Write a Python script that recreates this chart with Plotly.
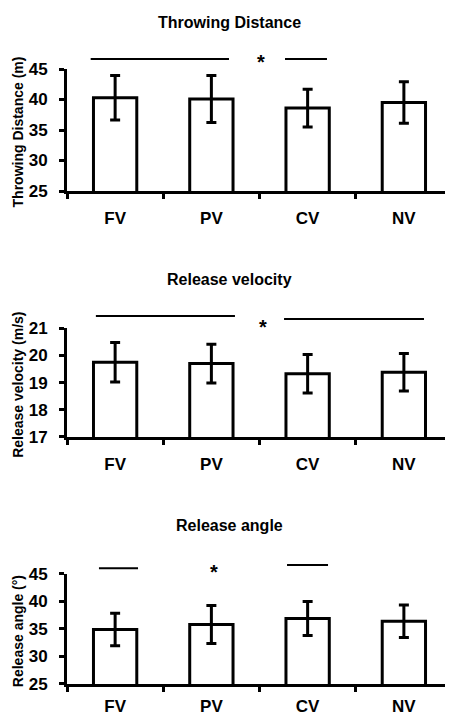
import plotly.graph_objects as go

# ---------------- data ----------------
categories = ["FV", "PV", "CV", "NV"]

distance_mean = [40.3, 40.1, 38.6, 39.5]
distance_sd = [3.65, 3.85, 3.1, 3.4]

velocity_mean = [19.75, 19.70, 19.33, 19.38]
velocity_sd = [0.73, 0.71, 0.71, 0.69]

angle_mean = [34.9, 35.8, 36.9, 36.4]
angle_sd = [2.95, 3.45, 3.1, 2.95]

panel_titles = ["Throwing Distance", "Release velocity", "Release angle"]
axis_titles = ["Throwing Distance (m)", "Release velocity (m/s)", "Release angle (°)"]
y_ranges = [(25, 45), (17, 21), (25, 45)]
y_dticks = [5, 1, 5]

# significance bars (category-unit spans) and star position
sig_spans = [
    [(-0.254, 1.183), (1.765, 2.201)],
    [(-0.20, 1.245), (1.755, 3.209)],
    [(-0.168, 0.238), (1.786, 2.212)],
]
sig_star_x = [1.516, 1.536, 1.027]

# ---------------- layout constants ----------------
# the page body keeps its default 8px margin, so the figure is sized to
# fill the remaining visible window area
FONT = "Liberation Sans, Arial, sans-serif"
W, H = 445, 708
x_domain = [59 / W, 444 / W]
y_domains = [(0.7415, 0.9138), (0.3941, 0.5476), (0.0452, 0.2006)]
title_y = [0.9802, 0.6172, 0.2684]
title_x = 0.497
ytitle_x = 10 / W
xlabel_standoff = [10, 10, 5]
sig_line_levels = [[1.082, 1.082], [1.113, 1.086], [1.052, 1.082]]
sig_star_level = [1.098, 1.061, 1.064]

means = [distance_mean, velocity_mean, angle_mean]
sds = [distance_sd, velocity_sd, angle_sd]

fig = go.Figure()
layout = dict(
    width=W, height=H,
    margin=dict(l=0, r=0, t=0, b=0, autoexpand=False),
    paper_bgcolor="white", plot_bgcolor="white",
    showlegend=False,
    font=dict(family=FONT, color="black"),
)
annotations = []
shapes = []

for i in range(3):
    sfx = "" if i == 0 else str(i + 1)
    xa, ya = "x" + sfx, "y" + sfx
    fig.add_trace(go.Bar(
        x=categories, y=means[i],
        xaxis=xa, yaxis=ya,
        width=0.45,
        marker=dict(color="white", line=dict(color="black", width=3)),
        error_y=dict(type="data", array=sds[i], visible=True,
                     color="black", thickness=3, width=5),
    ))
    layout["xaxis" + sfx] = dict(
        domain=x_domain, anchor=ya, type="category",
        categoryorder="array", categoryarray=categories,
        range=[-0.5, 3.5], tickson="boundaries",
        ticks="outside", ticklen=5, tickwidth=3, tickcolor="black",
        showline=True, linewidth=3, linecolor="black",
        showgrid=False, zeroline=False, automargin=False,
        tickfont=dict(family=FONT, size=17, color="black", weight="bold"),
        ticklabelstandoff=xlabel_standoff[i],
    )
    layout["yaxis" + sfx] = dict(
        domain=list(y_domains[i]), anchor=xa,
        range=list(y_ranges[i]), tick0=y_ranges[i][0], dtick=y_dticks[i],
        ticks="outside", ticklen=5, tickwidth=3, tickcolor="black",
        showline=True, linewidth=3, linecolor="black",
        showgrid=False, zeroline=False, automargin=False,
        tickfont=dict(family=FONT, size=17, color="black", weight="bold"),
        ticklabelstandoff=8,
    )
    # panel title
    annotations.append(dict(
        text=panel_titles[i], xref="paper", yref="paper",
        x=title_x, y=title_y[i], xanchor="center", yanchor="middle",
        showarrow=False,
        font=dict(family=FONT, size=16, color="black", weight="bold"),
    ))
    # y-axis title
    annotations.append(dict(
        text=axis_titles[i], xref="paper", yref=ya + " domain",
        x=ytitle_x, y=0.48, xanchor="center", yanchor="middle",
        textangle=-90, showarrow=False,
        font=dict(family=FONT, size=14, color="black", weight="bold"),
    ))
    # significance lines
    for (x0, x1), lvl in zip(sig_spans[i], sig_line_levels[i]):
        shapes.append(dict(
            type="line", xref=xa, yref=ya + " domain",
            x0=x0, x1=x1, y0=lvl, y1=lvl,
            line=dict(color="black", width=2),
        ))
    annotations.append(dict(
        text="*", xref=xa, yref=ya + " domain",
        x=sig_star_x[i], y=sig_star_level[i], yshift=-5,
        xanchor="center", yanchor="middle", showarrow=False,
        font=dict(family=FONT, size=20, color="black", weight="bold"),
    ))

layout["annotations"] = annotations
layout["shapes"] = shapes
fig.update_layout(**layout)
fig.write_html("out.html")
